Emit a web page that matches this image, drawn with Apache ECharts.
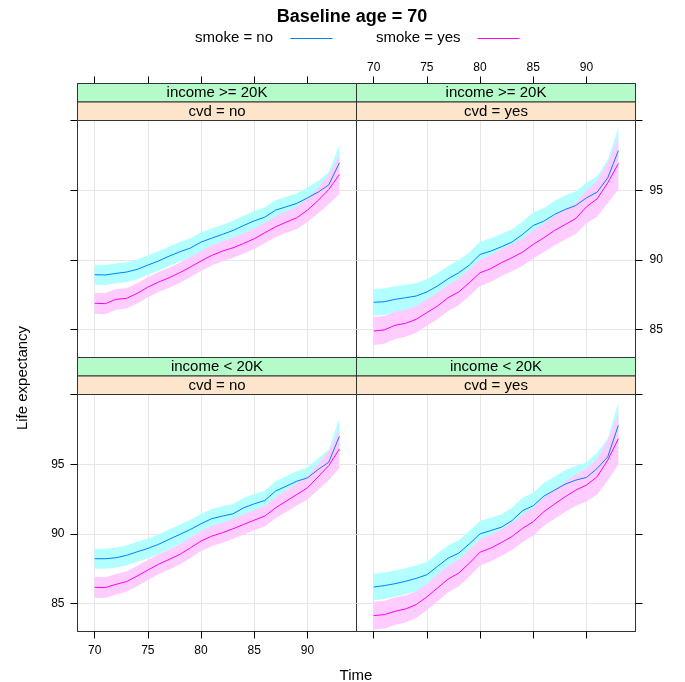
<!DOCTYPE html>
<html><head><meta charset="utf-8">
<script src="https://cdn.jsdelivr.net/npm/echarts@6/dist/echarts.min.js"></script>
<style>html,body{margin:0;padding:0;background:#fff}#c{width:685px;height:682px}</style>
</head><body><div id="c"></div>
<script>
// ---------- data ----------
const years = [70,71,72,73,74,75,76,77,78,79,80,81,82,83,84,85,86,87,88,89,90,91,92,93];
const xTicks = [70,75,80,85,90];
const yTicks = [85,90,95,100];
const yLabels = [85,90,95];
const incomeLevels = ['income >= 20K','income < 20K'];
const cvdLevels = ['cvd = no','cvd = yes'];
const smokeLevels = ['smoke = no','smoke = yes'];

// income >= 20K, cvd = no
const hiNoSmokeNo  = [88.94,88.92,89.03,89.13,89.32,89.63,89.92,90.27,90.58,90.85,91.28,91.56,91.83,92.11,92.47,92.80,93.07,93.57,93.81,94.05,94.45,94.86,95.38,96.96];
const hiNoSmokeYes = [86.89,86.86,87.17,87.24,87.60,88.05,88.41,88.72,89.08,89.49,89.92,90.32,90.63,90.87,91.18,91.52,91.95,92.37,92.71,93.02,93.57,94.26,95.05,96.12];
// income >= 20K, cvd = yes
const hiYesSmokeNo  = [86.96,87.00,87.17,87.29,87.41,87.70,88.13,88.65,89.08,89.63,90.39,90.63,90.94,91.28,91.83,92.47,92.78,93.26,93.62,93.90,94.45,94.86,95.88,97.84];
const hiYesSmokeYes = [84.90,84.98,85.31,85.45,85.74,86.22,86.69,87.29,87.70,88.37,89.08,89.37,89.80,90.16,90.56,91.11,91.59,92.11,92.54,92.97,93.81,94.38,95.53,96.91];
// income < 20K, cvd = no
const loNoSmokeNo  = [88.22,88.22,88.29,88.46,88.72,88.96,89.25,89.61,89.96,90.32,90.73,91.09,91.28,91.44,91.87,92.16,92.40,93.07,93.42,93.78,94.02,94.62,95.14,97.00];
const loNoSmokeYes = [86.17,86.15,86.38,86.58,86.98,87.41,87.82,88.17,88.53,89.00,89.49,89.84,90.08,90.37,90.68,90.99,91.28,91.87,92.35,92.83,93.31,94.09,94.90,96.10];
// income < 20K, cvd = yes
const loYesSmokeNo  = [86.19,86.29,86.43,86.60,86.81,87.07,87.67,88.26,88.62,89.29,90.00,90.24,90.48,90.95,91.67,92.02,92.71,93.14,93.57,93.86,94.05,94.69,95.52,97.79];
const loYesSmokeYes = [84.14,84.21,84.45,84.62,84.93,85.48,86.12,86.76,87.19,87.90,88.69,88.98,89.38,89.81,90.40,90.88,91.60,92.14,92.67,93.14,93.50,94.10,95.29,96.83];

// half-widths of the shaded intervals
const hwCvdNoSmokeNo   = [0.72,0.72,0.71,0.71,0.71,0.70,0.70,0.70,0.70,0.70,0.70,0.70,0.70,0.70,0.70,0.70,0.70,0.71,0.72,0.73,0.75,0.80,0.90,1.30];
const hwCvdNoSmokeYes  = [0.75,0.75,0.74,0.73,0.73,0.72,0.72,0.72,0.72,0.72,0.72,0.72,0.72,0.72,0.72,0.73,0.74,0.75,0.77,0.80,0.85,0.92,1.05,1.38];
const hwCvdYesSmokeNo  = [0.95,0.95,0.94,0.93,0.92,0.92,0.92,0.92,0.92,0.92,0.92,0.92,0.92,0.92,0.93,0.94,0.95,0.97,1.00,1.03,1.08,1.15,1.30,1.65];
const hwCvdYesSmokeYes = [1.00,0.99,0.98,0.97,0.96,0.95,0.95,0.95,0.95,0.95,0.95,0.95,0.96,0.97,0.98,1.00,1.02,1.05,1.08,1.12,1.18,1.28,1.45,1.85];

// ---------- layout / style ----------
const FONT = '"Liberation Sans", Arial, Helvetica, sans-serif';
const XMIN = 68.39, XMAX = 94.61, YMIN = 83, YMAX = 100;
const colLineNo = '#0080ff', colLineYes = '#ff00ff';
const colBandNo = '#b3ffff', colBandYes = '#ffccff';
const colStrip1 = '#b5fbca', colStrip2 = '#fde5cc';
const borderCol = '#333';

const panels = [
  {inc:0, cvd:0, no:hiNoSmokeNo,  yes:hiNoSmokeYes,  hwNo:hwCvdNoSmokeNo,  hwYes:hwCvdNoSmokeYes,  left:77.5,  top:120.5, xPos:'top',    xLab:false, yPos:'left',  yLab:false},
  {inc:0, cvd:1, no:hiYesSmokeNo, yes:hiYesSmokeYes, hwNo:hwCvdYesSmokeNo, hwYes:hwCvdYesSmokeYes, left:356.5, top:120.5, xPos:'top',    xLab:true,  yPos:'right', yLab:true},
  {inc:1, cvd:0, no:loNoSmokeNo,  yes:loNoSmokeYes,  hwNo:hwCvdNoSmokeNo,  hwYes:hwCvdNoSmokeYes,  left:77.5,  top:394.5, xPos:'bottom', xLab:true,  yPos:'left',  yLab:true},
  {inc:1, cvd:1, no:loYesSmokeNo, yes:loYesSmokeYes, hwNo:hwCvdYesSmokeNo, hwYes:hwCvdYesSmokeYes, left:356.5, top:394.5, xPos:'bottom', xLab:false, yPos:'right', yLab:false}
];
const PW = 279, PH = 237, STRIP_H = 18.5;

const grids = [], xAxes = [], yAxes = [], series = [], graphics = [];
const tickStyle = {color:'#000', width:1};

panels.forEach((p, i) => {
  grids.push({left:p.left, top:p.top, width:PW, height:PH, show:true, borderColor:borderCol, borderWidth:1, backgroundColor:'transparent'});
  xAxes.push({
    type:'value', gridIndex:i, min:XMIN, max:XMAX, position:p.xPos,
    offset: p.xPos === 'top' ? 2*STRIP_H : 0,
    axisLine:{show:true, lineStyle:{color:borderCol, width:1}},
    axisTick:{show:true, inside:false, length:7, customValues:xTicks, lineStyle:tickStyle},
    axisLabel:{show:p.xLab, customValues:xTicks, fontSize:12, fontFamily:FONT, color:'#000', margin: p.xPos==='top' ? 10 : 13},
    splitLine:{show:true, lineStyle:{color:'#e6e6e6', width:1}}
  });
  yAxes.push({
    type:'value', gridIndex:i, min:YMIN, max:YMAX, position:p.yPos,
    axisLine:{show:true, lineStyle:{color:borderCol, width:1}},
    axisTick:{show:true, inside:false, length:7, customValues:yTicks, lineStyle:tickStyle},
    axisLabel:{show:p.yLab, customValues:yLabels, fontSize:12, fontFamily:FONT, color:'#000', margin: p.yPos==='right' ? 14 : 13},
    splitLine:{show:true, lineStyle:{color:'#e6e6e6', width:1}}
  });

  // confidence band drawn as one polygon through the axes' coordinate mapping
  const band = (vals, hw, color) => {
    series.push({type:'custom', xAxisIndex:i, yAxisIndex:i, silent:true, z:1, clip:true,
      data: years.map((y,k)=>[y, vals[k]-hw[k], vals[k]+hw[k]]),
      encode:{x:0, y:[1,2]},
      renderItem:(params, api) => {
        if (params.dataIndex !== 0) return null;
        const up = [], dn = [];
        for (let k = 0; k < years.length; k++) {
          up.push(api.coord([years[k], vals[k]+hw[k]]));
          dn.unshift(api.coord([years[k], vals[k]-hw[k]]));
        }
        return {type:'polygon', shape:{points: up.concat(dn)}, style:{fill:color, stroke:null}, silent:true};
      }
    });
  };
  band(p.no, p.hwNo, colBandNo);
  band(p.yes, p.hwYes, colBandYes);
  series.push({name:smokeLevels[0], type:'line', xAxisIndex:i, yAxisIndex:i, symbol:'none', silent:true,
    lineStyle:{color:colLineNo, width:1}, data: years.map((y,k)=>[y, p.no[k]]), z:3});
  series.push({name:smokeLevels[1], type:'line', xAxisIndex:i, yAxisIndex:i, symbol:'none', silent:true,
    lineStyle:{color:colLineYes, width:1}, data: years.map((y,k)=>[y, p.yes[k]]), z:3});

  // strips
  const sTop = p.top - 2*STRIP_H;
  [[incomeLevels[p.inc], colStrip1, sTop], [cvdLevels[p.cvd], colStrip2, sTop+STRIP_H]].forEach(([txt, col, y]) => {
    graphics.push({type:'rect', shape:{x:p.left, y:y, width:PW, height:STRIP_H},
      style:{fill:col, stroke:borderCol, lineWidth:1}, silent:true, z:10});
    graphics.push({type:'text', x:p.left+PW/2, y:y+STRIP_H/2+0.5, z:11, silent:true,
      style:{text:txt, fontSize:15, fontFamily:FONT, fill:'#000', align:'center', verticalAlign:'middle', textAlign:'center', textVerticalAlign:'middle'}});
  });
});

// title
graphics.push({type:'text', x:352, y:17, silent:true,
  style:{text:'Baseline age = 70', fontSize:18, fontWeight:'bold', fontFamily:FONT, fill:'#000', align:'center', verticalAlign:'middle', textAlign:'center', textVerticalAlign:'middle'}});
// legend
[[smokeLevels[0], colLineNo, 273, 290.5], [smokeLevels[1], colLineYes, 460.5, 477.5]].forEach(([txt,col,tx,lx]) => {
  graphics.push({type:'text', x:tx, y:38, silent:true,
    style:{text:txt, fontSize:15, fontFamily:FONT, fill:'#000', align:'right', verticalAlign:'middle', textAlign:'right', textVerticalAlign:'middle'}});
  graphics.push({type:'line', shape:{x1:lx, y1:38.5, x2:lx+42, y2:38.5}, style:{stroke:col, lineWidth:1}, silent:true});
});
// axis titles
graphics.push({type:'text', x:356, y:676, silent:true,
  style:{text:'Time', fontSize:15, fontFamily:FONT, fill:'#000', align:'center', verticalAlign:'middle', textAlign:'center', textVerticalAlign:'middle'}});
graphics.push({type:'text', x:23, y:378, rotation:Math.PI/2, silent:true,
  style:{text:'Life expectancy', fontSize:15, fontFamily:FONT, fill:'#000', align:'center', verticalAlign:'middle', textAlign:'center', textVerticalAlign:'middle'}});

const chart = echarts.init(document.getElementById('c'), null, {renderer:'canvas'});
chart.setOption({
  animation:false,
  backgroundColor:'#fff',
  grid:grids, xAxis:xAxes, yAxis:yAxes, series:series,
  graphic:{elements:graphics}
});
</script>
</body></html>
